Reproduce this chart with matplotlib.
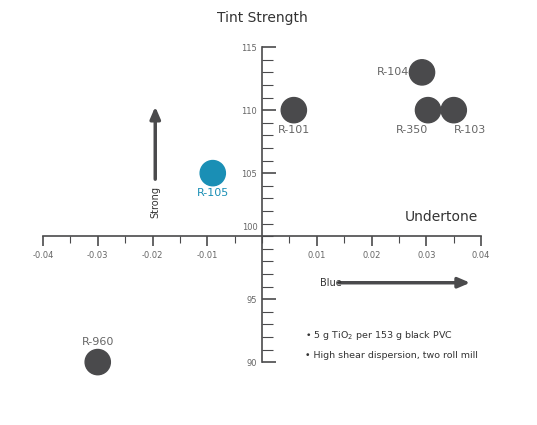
import matplotlib
matplotlib.use("Agg")
import matplotlib.pyplot as plt
from matplotlib.ticker import MultipleLocator

names = ["R-104", "R-350", "R-103", "R-101", "R-105", "R-960"]
undertone = [0.0292, 0.0303, 0.0350, 0.0058, -0.0090, -0.0300]
tint = [113, 110, 110, 110, 105, 90]
colors = ["#4a4a4c"] * 4 + ["#1a8fb5", "#4a4a4c"]
# label placement offsets (x in data units, y in tint units)
label_dx = [-0.0023, -0.003, 0.003, 0.0, 0.0, 0.0]
label_dy = [0, -1.2, -1.2, -1.2, -1.2, 1.2]

grey = "#4a4a4c"
fig = plt.figure(figsize=(5.37, 4.25), dpi=100)
ax = fig.add_axes([0.08, 0.148, 0.816, 0.741])
ax.set_xlim(-0.04, 0.04)
ax.set_ylim(90, 115)

for s in ["top", "right"]:
    ax.spines[s].set_visible(False)
ax.spines["left"].set_position(("data", 0))
ax.spines["bottom"].set_position(("data", 100))
for s in ["left", "bottom"]:
    ax.spines[s].set_color(grey)
    ax.spines[s].set_linewidth(1.2)

ax.xaxis.set_major_locator(MultipleLocator(0.01))
ax.xaxis.set_minor_locator(MultipleLocator(0.005))
ax.yaxis.set_major_locator(MultipleLocator(5))
ax.yaxis.set_minor_locator(MultipleLocator(1))
ax.tick_params(axis="x", which="major", direction="out", length=7, width=1.2, color=grey, labelsize=6, labelcolor="#666", pad=4)
ax.tick_params(axis="x", which="minor", direction="out", length=5, width=0.8, color=grey)
ax.tick_params(axis="y", which="major", direction="in", length=10, width=1.2, color=grey, labelsize=6, labelcolor="#666")
ax.tick_params(axis="y", which="minor", direction="in", length=8, width=0.8, color=grey)
ax.set_xticks([t / 100 for t in range(-4, 5) if t != 0])
ax.set_xticklabels([f"{t/100:.2f}" for t in range(-4, 5) if t != 0])
ax.set_yticks([90, 95, 105, 110, 115])
ax.text(-0.0007, 100.3, "100", fontsize=6, color="#666", ha="right", va="bottom")

ax.scatter(undertone, tint, s=330, c=colors, zorder=3, clip_on=False)
for n, x, y, c, dx, dy in zip(names, undertone, tint, colors, label_dx, label_dy):
    tc = "#1a8fb5" if c != grey else "#666"
    if dy == 0:
        ax.text(x + dx, y, n, color=tc, fontsize=8, ha="right", va="center")
    else:
        ax.text(x + dx, y + dy, n, color=tc, fontsize=8, ha="center", va="top" if dy < 0 else "bottom")

ax.text(0, 116.8, "Tint Strength", fontsize=10, color="#333", ha="center", va="bottom")
ax.text(0.0395, 101.0, "Undertone", fontsize=10, color="#333", ha="right", va="bottom")

ax.annotate("", xy=(-0.0195, 110.5), xytext=(-0.0195, 104.3), arrowprops=dict(arrowstyle="-|>,head_width=0.3,head_length=0.7", color=grey, lw=2.5))
ax.text(-0.0195, 104.0, "Strong", rotation=90, fontsize=7, color="#333", ha="center", va="top")
ax.annotate("", xy=(0.0385, 96.3), xytext=(0.0135, 96.3), arrowprops=dict(arrowstyle="-|>,head_width=0.3,head_length=0.7", color=grey, lw=2.5))
ax.text(0.0105, 96.3, "Blue", fontsize=7, color="#333", ha="left", va="center")

ax.text(0.0078, 92.1, "\u2022 5 g TiO$_2$ per 153 g black PVC", fontsize=6.8, color="#333", va="center")
ax.text(0.0078, 90.5, "\u2022 High shear dispersion, two roll mill", fontsize=6.8, color="#333", va="center")

fig.savefig("out.png", dpi=100)
